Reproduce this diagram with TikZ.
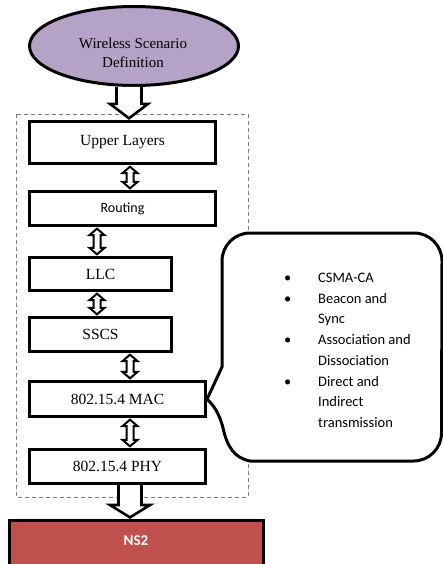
\documentclass[tikz,border=0pt]{standalone}
\usepackage{fontspec}
\setmainfont{Liberation Serif}
\newfontfamily\calib{Carlito}
\usetikzlibrary{shapes.geometric,calc}
\definecolor{lav}{RGB}{180,162,199}
\definecolor{nsred}{RGB}{192,80,77}
\tikzset{
  layer/.style={draw=black, line width=3.2pt, fill=white, inner sep=0pt,
    font=\fontsize{15.5}{18}\selectfont},
  blk/.style={draw=black, fill=white, line width=2pt, line join=miter},
  bigblk/.style={draw=black, fill=white, line width=2.6pt, line join=miter},
}
% double-headed hollow arrow: #1 upper node, #2 lower node, #3 x position
\newcommand\dblarr[3]{%
  \path[blk] let \p1=(#1.south), \p2=(#2.north) in
    (#3pt-3.5pt,\y1-8pt) -- (#3pt-7.5pt,\y1-8pt) -- (#3pt,\y1-1.6pt)
    -- (#3pt+7.5pt,\y1-8pt) -- (#3pt+3.5pt,\y1-8pt)
    -- (#3pt+3.5pt,\y2+8pt) -- (#3pt+7.5pt,\y2+8pt) -- (#3pt,\y2+1.6pt)
    -- (#3pt-7.5pt,\y2+8pt) -- (#3pt-3.5pt,\y2+8pt) -- cycle;}
% single-headed hollow block arrow: #1 from, #2 to, #3 x, #4 shaft hw, #5 head hw, #6 head length
\newcommand\bigarr[6]{%
  \path[bigblk] let \p1=(#1.south), \p2=(#2.north) in
    (#3pt-#4pt,\y1) -- (#3pt-#4pt,\y2+#6pt) -- (#3pt-#5pt,\y2+#6pt)
    -- (#3pt,\y2+1.6pt) -- (#3pt+#5pt,\y2+#6pt) -- (#3pt+#4pt,\y2+#6pt)
    -- (#3pt+#4pt,\y1);}
\begin{document}
\begin{tikzpicture}[x=1pt,y=-1pt]
\useasboundingbox (0,0) rectangle (443,564);

% dashed container
\draw[gray, line width=0.8pt, dash pattern=on 4pt off 3pt] (16,114) rectangle (248,497);

% scenario ellipse
\node[ellipse, draw=black, line width=3pt, fill=lav, minimum width=209pt,
      minimum height=79pt, inner sep=0pt] (scen) at (134,46) {};
\node[font=\fontsize{15}{19}\selectfont, align=center, inner sep=0pt] (scentxt) at (133,53)
  {Wireless Scenario\\Definition};

% layers
\node[layer, minimum width=186pt, minimum height=42pt] (up)   at (122.5,142.5) {Upper Layers};
\node[layer, minimum width=186pt, minimum height=34pt, font=\calib\fontsize{14}{16}\selectfont] (rout) at (122.5,208.5) {Routing};
\node[layer, minimum width=142pt, minimum height=33pt] (llc)  at (100.5,274) {LLC};
\node[layer, minimum width=142pt, minimum height=34pt] (sscs) at (100.5,334.5) {SSCS};
\node[layer, minimum width=176pt, minimum height=35pt] (mac)  at (117.5,399) {802.15.4 MAC};
\node[layer, minimum width=176pt, minimum height=34pt] (phy)  at (117.5,466.5) {802.15.4 PHY};

% NS2
\node[draw=black, line width=3pt, fill=nsred, minimum width=254pt, minimum height=52pt,
      inner sep=0pt, anchor=north] (ns) at (136.5,519) {};
\node[text=white, font=\calib\bfseries\fontsize{15}{18}\selectfont, inner sep=0pt] (nstxt) at (136,541) {NS2};

% arrows
\bigarr{scen}{up}{129}{12.5}{19}{16}
\dblarr{up}{rout}{130}
\dblarr{rout}{llc}{97}
\dblarr{llc}{sscs}{97}
\dblarr{sscs}{mac}{130}
\dblarr{mac}{phy}{130}
\bigarr{phy}{ns}{130}{11.5}{20}{14}

% callout
\draw[line width=3pt, fill=white, line join=round]
  (250,233) -- (414,233) arc[start angle=-90, end angle=0, radius=28]
  -- (441.5,433) arc[start angle=0, end angle=90, radius=28]
  -- (250,461) .. controls (234,458) and (227,446) .. (223,428)
  .. controls (219,412) and (213,405) .. (mac.east)
  -- (222,367) -- (222,261) arc[start angle=180, end angle=270, radius=28] -- cycle;

\node[anchor=base west, inner sep=0pt, font=\calib\fontsize{14.5}{20.7}\selectfont] (list) at (284,282.5)
{\begin{tabular}[t]{@{}p{34pt}@{}l@{}}
\textbullet & CSMA-CA\\
\textbullet & Beacon and\\
 & Sync\\
\textbullet & Association and\\
 & Dissociation\\
\textbullet & Direct and\\
 & Indirect\\
 & transmission
\end{tabular}};
\end{tikzpicture}
\end{document}
